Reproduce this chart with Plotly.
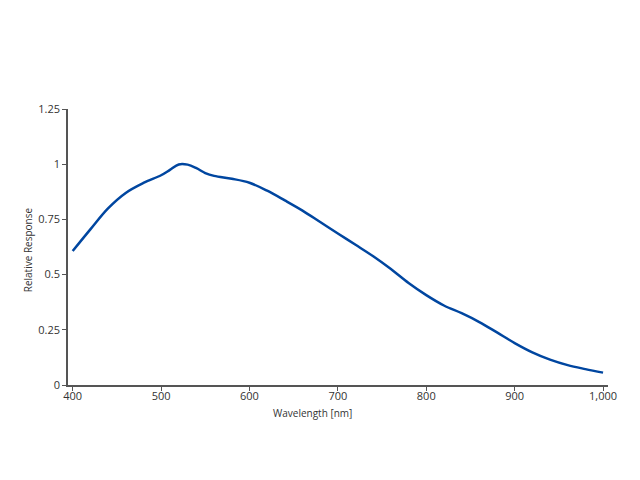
import plotly.graph_objects as go

wavelength = [400, 420, 440, 460, 480, 500, 510, 520, 530, 540, 550, 560, 580, 600, 620, 640, 660,
              680, 700, 720, 740, 760, 780, 800, 820, 840, 860, 880, 900, 920, 940, 960, 980, 1000]
response = [0.607, 0.705, 0.800, 0.870, 0.915, 0.950, 0.974, 0.999, 0.998, 0.982, 0.960, 0.947, 0.934,
            0.916, 0.880, 0.836, 0.790, 0.738, 0.686, 0.635, 0.583, 0.525, 0.462, 0.407, 0.360,
            0.325, 0.285, 0.238, 0.190, 0.148, 0.115, 0.090, 0.072, 0.056]

x_ticks = [400, 500, 600, 700, 800, 900, 1000]
y_ticks = [0, 0.25, 0.5, 0.75, 1, 1.25]

fig = go.Figure()
fig.add_trace(go.Scatter(x=wavelength, y=response, mode="lines",
                         line=dict(color="#0046A0", width=2.5, shape="spline", smoothing=1.0),
                         showlegend=False, hoverinfo="skip"))

axis_font = dict(family="Open Sans, DejaVu Sans, sans-serif", size=11, color="#333333")
fig.update_layout(
    width=640, height=480,
    margin=dict(l=60, r=40, t=101, b=103),
    paper_bgcolor="white", plot_bgcolor="white",
    xaxis=dict(range=[394.7, 1005.6], tickvals=x_ticks, tickformat=",", showgrid=False,
               zeroline=False, showline=True, linecolor="#555555", linewidth=1.5,
               ticks="outside", ticklen=4, tickcolor="#555555", tickfont=axis_font,
               ticklabelstandoff=-4),
    yaxis=dict(range=[0, 1.25], tickvals=y_ticks, showgrid=False, zeroline=False,
               showline=True, linecolor="#555555", linewidth=1.5,
               ticks="outside", ticklen=4, tickcolor="#555555", tickfont=axis_font,
               ticklabelstandoff=0),
    annotations=[
        dict(text="Wavelength [nm]", xref="paper", yref="paper", x=0.452, y=-0.1,
             showarrow=False, xanchor="center", yanchor="middle",
             font=dict(family="Open Sans, DejaVu Sans, sans-serif", size=10, color="#333333")),
        dict(text="Relative Response", xref="paper", yref="paper", x=-0.075, y=0.49,
             showarrow=False, textangle=-90, xanchor="center", yanchor="middle",
             font=dict(family="Open Sans, DejaVu Sans, sans-serif", size=10, color="#333333")),
    ],
)

fig.write_html("out.html")
